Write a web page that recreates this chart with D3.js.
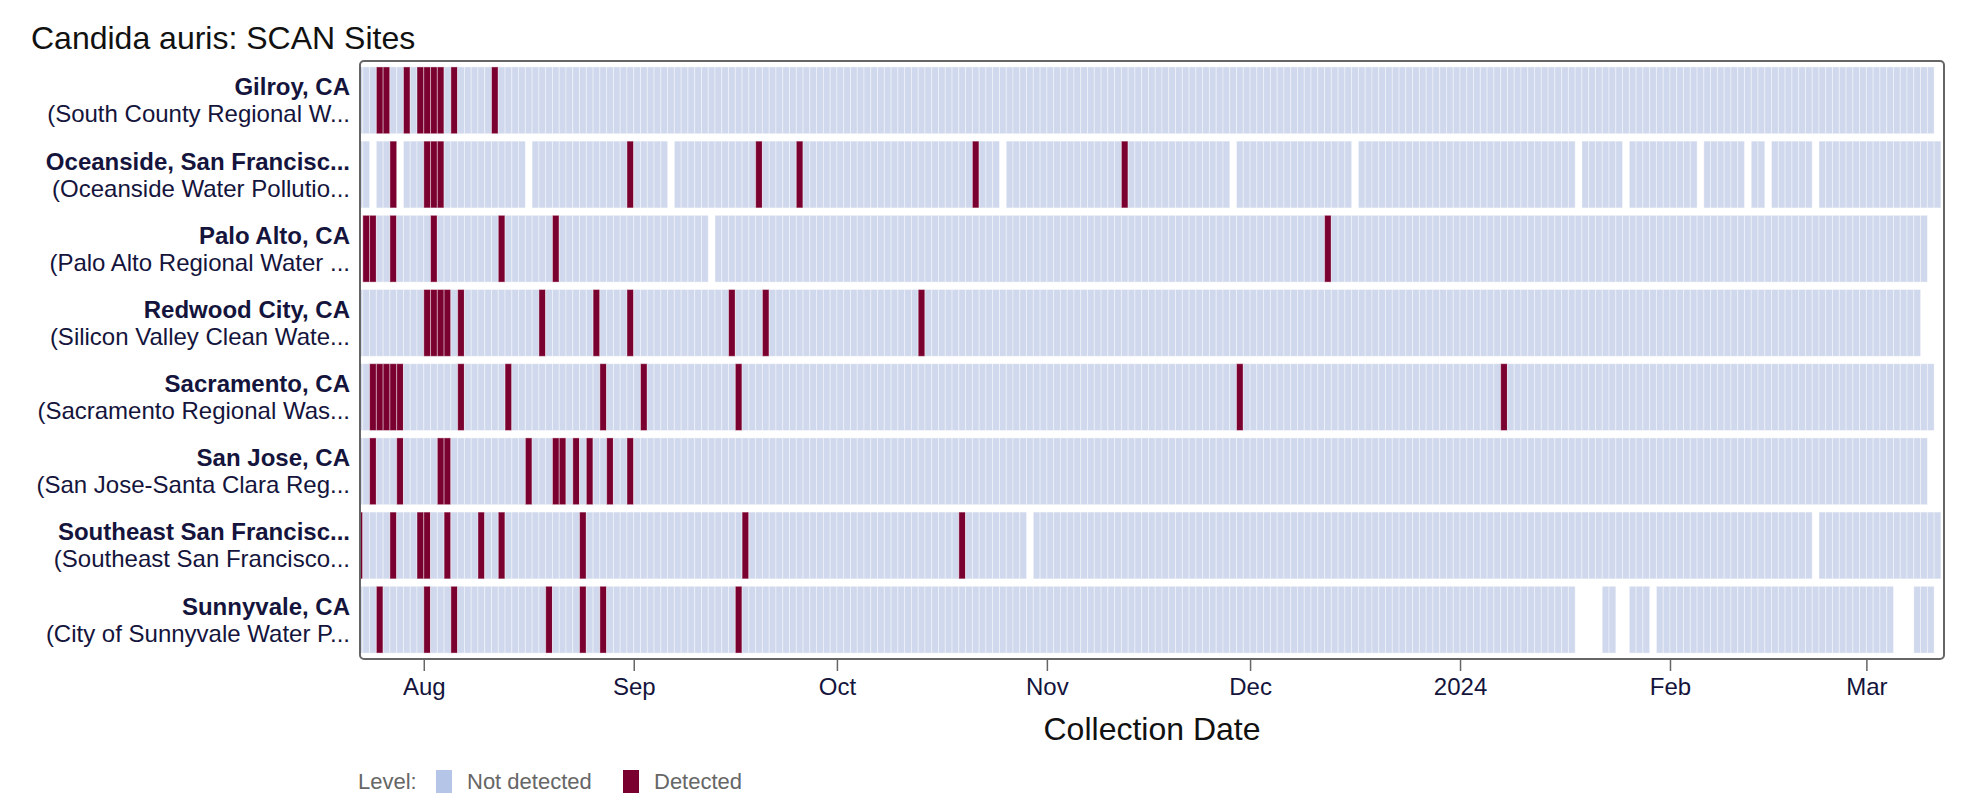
<!doctype html>
<html lang="en">
<head>
  <meta charset="utf-8">
  <title>Candida auris: SCAN Sites</title>
  <script src="https://cdn.jsdelivr.net/npm/d3@7"></script>
  <style>
    body { margin: 0; background: #fff; }
    svg { display: block; font-family: "Liberation Sans", Arial, Helvetica, sans-serif; }
  </style>
</head>
<body>
<svg id="chart" width="1984" height="810"></svg>
<script>
  // sites, top to bottom
  var sites = ["Gilroy, CA", "Oceanside, San Francisc...", "Palo Alto, CA", "Redwood City, CA",
               "Sacramento, CA", "San Jose, CA", "Southeast San Francisc...", "Sunnyvale, CA"];
  var plants = ["(South County Regional W...", "(Oceanside Water Pollutio...", "(Palo Alto Regional Water ...",
                "(Silicon Valley Clean Wate...", "(Sacramento Regional Was...", "(San Jose-Santa Clara Reg...",
                "(Southeast San Francisco...", "(City of Sunnyvale Water P..."];

  // first / last daily sample per site
  var firstSample = ["2023-07-22", "2023-07-22", "2023-07-23", "2023-07-22",
                     "2023-07-22", "2023-07-22", "2023-07-22", "2023-07-22"];
  var lastSample = ["2024-03-10", "2024-03-11", "2024-03-09", "2024-03-08",
                    "2024-03-10", "2024-03-09", "2024-03-11", "2024-03-10"];

  // days with C. auris detected
  var detected = [
    ["2023-07-25", "2023-07-26", "2023-07-29", "2023-07-31", "2023-08-01", "2023-08-02", "2023-08-03", "2023-08-05", "2023-08-11"],
    ["2023-07-27", "2023-08-01", "2023-08-02", "2023-08-03", "2023-08-31", "2023-09-19", "2023-09-25", "2023-10-21", "2023-11-12"],
    ["2023-07-23", "2023-07-24", "2023-07-27", "2023-08-02", "2023-08-12", "2023-08-20", "2023-12-12"],
    ["2023-08-01", "2023-08-02", "2023-08-03", "2023-08-04", "2023-08-06", "2023-08-18", "2023-08-26", "2023-08-31", "2023-09-15", "2023-09-20", "2023-10-13"],
    ["2023-07-24", "2023-07-25", "2023-07-26", "2023-07-27", "2023-07-28", "2023-08-06", "2023-08-13", "2023-08-27", "2023-09-02", "2023-09-16", "2023-11-29", "2024-01-07"],
    ["2023-07-24", "2023-07-28", "2023-08-03", "2023-08-04", "2023-08-16", "2023-08-20", "2023-08-21", "2023-08-23", "2023-08-25", "2023-08-28", "2023-08-31"],
    ["2023-07-22", "2023-07-27", "2023-07-31", "2023-08-01", "2023-08-04", "2023-08-09", "2023-08-12", "2023-08-24", "2023-09-17", "2023-10-19"],
    ["2023-07-25", "2023-08-01", "2023-08-05", "2023-08-19", "2023-08-24", "2023-08-27", "2023-09-16"]
  ];

  // days with no sample
  var noSample = [
    [],
    ["2023-07-24", "2023-07-28", "2023-08-16", "2023-09-06", "2023-10-25", "2023-11-28", "2023-12-16",
     "2024-01-18", "2024-01-25", "2024-02-05", "2024-02-12", "2024-02-15", "2024-02-22"],
    ["2023-09-12"],
    [],
    [],
    [],
    ["2023-10-29", "2024-02-22"],
    ["2024-01-18", "2024-01-19", "2024-01-20", "2024-01-21", "2024-01-24", "2024-01-25", "2024-01-29",
     "2024-03-05", "2024-03-06", "2024-03-07"]
  ];

  var levels = ["Not detected", "Detected"];
  var tileColors = ["#cfd8ec", "#7a0030"];
  var swatchColors = ["#b4c5e7", "#7a0030"];

  (function() {
    var parse = d3.utcParse("%Y-%m-%d");
    var fmt = d3.utcFormat("%Y-%m-%d");

    var cells = [];
    sites.forEach(function(s, i) {
      var days = d3.utcDay.range(parse(firstSample[i]), d3.utcDay.offset(parse(lastSample[i]), 1));
      days.forEach(function(day) {
        var key = fmt(day);
        if (noSample[i].indexOf(key) >= 0) return;
        cells.push({ site: s, day: day, level: detected[i].indexOf(key) >= 0 ? 1 : 0 });
      });
    });

    var svg = d3.select("#chart");
    var pLeft = 360, pRight = 1944, pTop = 61, pBottom = 659;

    var x = d3.scaleUtc()
      .domain([new Date(Date.UTC(2023, 6, 22, 14)), new Date(Date.UTC(2024, 2, 12, 11))])
      .range([pLeft, pRight]);
    var y = d3.scaleBand().domain(sites).range([pTop, pBottom]).paddingInner(0.1).paddingOuter(0.08);

    svg.append("clipPath").attr("id", "plotclip")
      .append("rect").attr("x", pLeft).attr("y", pTop).attr("width", pRight - pLeft).attr("height", pBottom - pTop);

    svg.append("g").attr("clip-path", "url(#plotclip)")
      .selectAll("rect").data(cells).enter()
      .append("rect")
        .attr("x", function(d) { return x(d.day); })
        .attr("y", function(d) { return y(d.site); })
        .attr("width", function(d) { return x(d3.utcDay.offset(d.day, 1)) - x(d.day); })
        .attr("height", y.bandwidth())
        .attr("fill", function(d) { return tileColors[d.level]; })
        .attr("stroke", "rgba(255,255,255,0.4)")
        .attr("stroke-width", 1);

    // frame
    svg.append("rect")
      .attr("x", pLeft).attr("y", pTop).attr("width", pRight - pLeft).attr("height", pBottom - pTop)
      .attr("rx", 4).attr("fill", "none").attr("stroke", "#666").attr("stroke-width", 2);

    // x axis
    var xAxis = d3.axisBottom(x)
      .ticks(d3.utcMonth.every(1))
      .tickSize(12)
      .tickPadding(7)
      .tickFormat(function(d) { return d.getUTCMonth() === 0 ? d3.utcFormat("%Y")(d) : d3.utcFormat("%b")(d); });
    var gx = svg.append("g").attr("transform", "translate(0," + pBottom + ")").call(xAxis);
    gx.select(".domain").remove();
    gx.selectAll(".tick line").attr("stroke", "#666").attr("stroke-width", 1.5);
    gx.selectAll(".tick text").attr("fill", "#14143c").attr("font-size", 24).style("font-family", "inherit");

    svg.append("text")
      .attr("x", (pLeft + pRight) / 2).attr("y", 740)
      .attr("text-anchor", "middle").attr("font-size", 32).attr("fill", "#111")
      .text("Collection Date");

    // y labels
    var gy = svg.append("g");
    sites.forEach(function(s, i) {
      var cy = y(s) + y.bandwidth() / 2;
      gy.append("text").attr("x", 350).attr("y", cy - 5)
        .attr("text-anchor", "end").attr("font-size", 24).attr("font-weight", "bold").attr("fill", "#14143c")
        .text(s);
      gy.append("text").attr("x", 350).attr("y", cy + 22)
        .attr("text-anchor", "end").attr("font-size", 24).attr("fill", "#14143c")
        .text(plants[i]);
    });

    // title
    svg.append("text").attr("x", 31).attr("y", 49)
      .attr("font-size", 32).attr("fill", "#111")
      .text("Candida auris: SCAN Sites");

    // legend
    var lg = svg.append("g").attr("font-size", 22).attr("fill", "#666");
    lg.append("text").attr("x", 358).attr("y", 789).text("Level:");
    var lx = [436, 623];
    levels.forEach(function(l, i) {
      lg.append("rect").attr("x", lx[i]).attr("y", 770).attr("width", 16).attr("height", 23)
        .attr("fill", swatchColors[i]);
      lg.append("text").attr("x", lx[i] + 31).attr("y", 789).text(l);
    });
  })();
</script>
</body>
</html>
